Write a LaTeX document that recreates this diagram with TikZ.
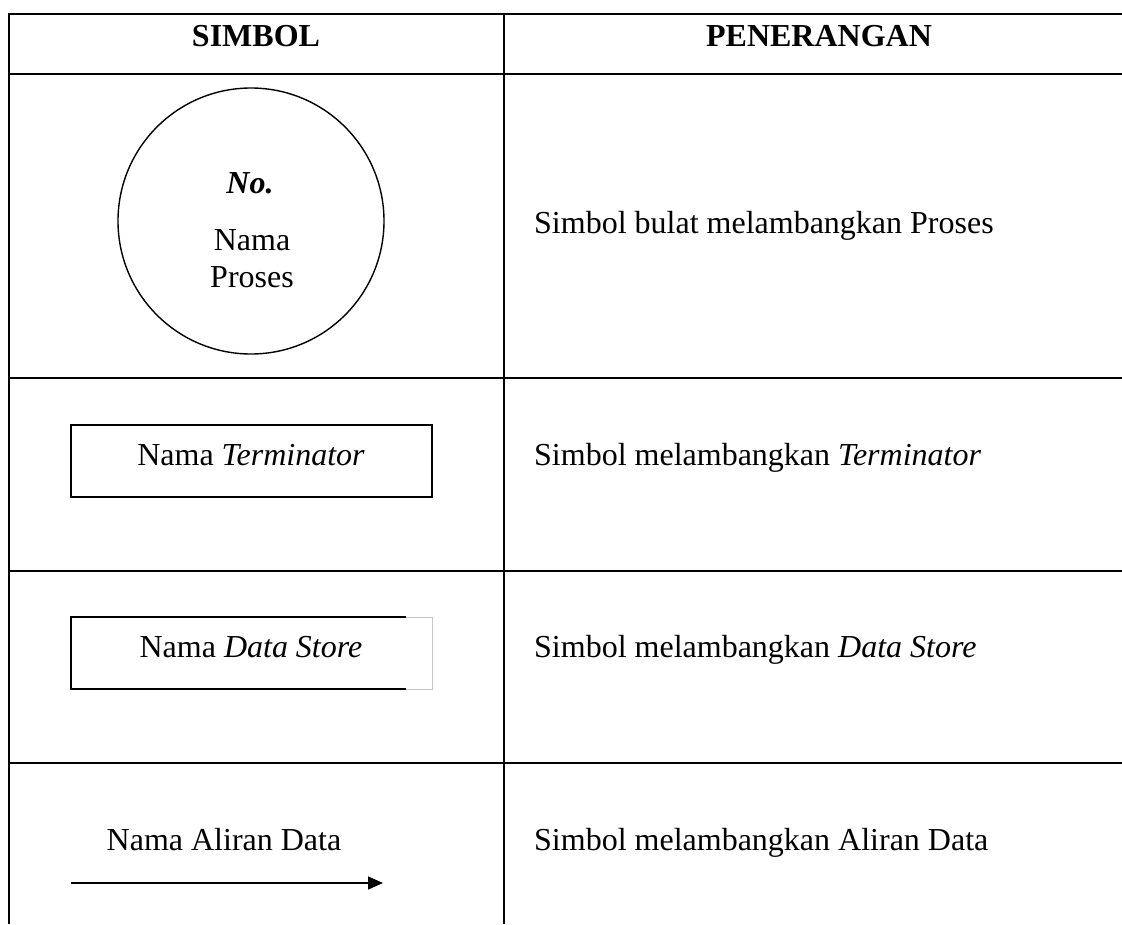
\documentclass[tikz,border=0pt]{standalone}
\usepackage{fontspec}
\setmainfont{Liberation Serif}
\usetikzlibrary{arrows.meta}
\begin{document}
\begin{tikzpicture}[x=1pt,y=-1pt,
  grid/.style={line width=2pt,black},
  symline/.style={line width=1.4pt,black},
  bodyfont/.style={font=\fontsize{32}{37}\selectfont},
  txt/.style={bodyfont,inner sep=0pt,anchor=base west},
  ctxt/.style={bodyfont,inner sep=0pt,anchor=base}]
\useasboundingbox (0,0) rectangle (1122,924);

% table rules (open on the right and at the bottom)
\draw[grid] (1122,13.6) -- (8.6,13.6) -- (8.6,924);
\draw[grid] (504,13.6) -- (504,924);
\foreach \ry in {74,378,571,763}
  \draw[grid] (8.6,\ry) -- (1122,\ry);

% header
\node[ctxt,font=\fontsize{32}{37}\selectfont\bfseries] (hsym) at (256,46) {SIMBOL};
\node[ctxt,font=\fontsize{32}{37}\selectfont\bfseries] (hdesc) at (819,46) {PENERANGAN};

% process
\node[draw,circle,symline,minimum size=266pt,inner sep=0pt] (proc) at (251,221) {};
\node[ctxt] (procno) at (250,193) {\textbf{\textit{No.}}};
\node[ctxt] (procname1) at (252,250) {Nama};
\node[ctxt] (procname2) at (252,287) {Proses};
\node[txt] (dproc) at (534,233) {Simbol bulat melambangkan Proses};

% terminator
\node[draw,symline,minimum width=361pt,minimum height=72pt,inner sep=0pt] (term) at (251.5,461) {};
\node[ctxt] (termname) at (251,465) {Nama \textit{Terminator}};
\node[txt] (dterm) at (534,465) {Simbol melambangkan \textit{Terminator}};

% data store
\draw[symline] (406,617) -- (71,617) -- (71,689) -- (406,689);
\draw[line width=0.8pt,black!22] (406,617) -- (432,617) -- (432,689) -- (406,689);
\node[ctxt] (storename) at (251,657) {Nama \textit{Data Store}};
\node[txt] (dstore) at (534,657) {Simbol melambangkan \textit{Data Store}};

% data flow
\node[ctxt] (flowname) at (224,850) {Nama Aliran Data};
\coordinate (flowstart) at (71,883);
\coordinate (flowend) at (383,883);
\draw[symline,-{Triangle[length=15pt,width=13pt]}] (flowstart) -- (flowend);
\node[txt] (dflow) at (534,850) {Simbol melambangkan Aliran Data};
\end{tikzpicture}
\end{document}
